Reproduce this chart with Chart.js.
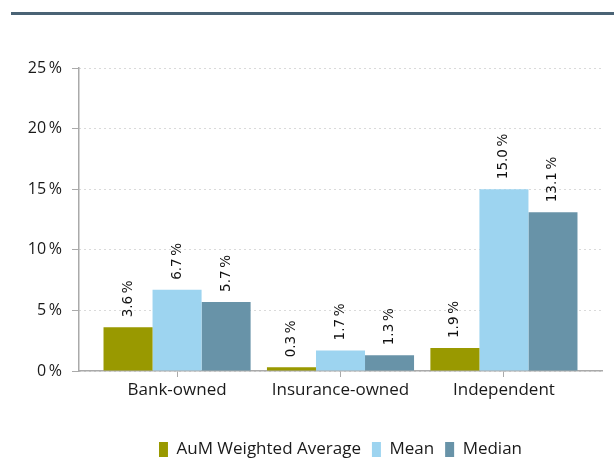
<!DOCTYPE html>
<html>
<head>
<meta charset="utf-8">
<script src="https://cdn.jsdelivr.net/npm/chart.js@4/dist/chart.umd.min.js"></script>
<style>
  html, body { margin: 0; padding: 0; background: #fff; }
  #wrap { width: 614px; height: 459px; position: relative; }
</style>
</head>
<body>
<div id="wrap"><canvas id="fundsChart"></canvas></div>
<script>
// categories and series (percent)
const categories = ['Bank-owned', 'Insurance-owned', 'Independent'];
const aumWeighted = [3.6, 0.3, 1.9];
const meanValues = [6.7, 1.7, 15.0];
const medianValues = [5.7, 1.3, 13.1];
const yTickValues = [0, 5, 10, 15, 20, 25];

const fontMain = '"Open Sans", "Noto Sans", sans-serif';
const pct = v => v + '\u2009%';

// bars sit on a linear x axis so the plot can run a bit past the outer groups
const toPoints = arr => arr.map((v, i) => ({ x: i, y: v }));

// thick rule across the top
const topRule = {
  id: 'topRule',
  beforeDraw(chart) {
    const ctx = chart.ctx;
    ctx.save();
    ctx.fillStyle = '#4a6375';
    ctx.fillRect(11, 12, chart.width - 11, 3);
    ctx.restore();
  }
};

// rotated value labels above every bar
const valueLabels = {
  id: 'valueLabels',
  afterDatasetsDraw(chart) {
    const ctx = chart.ctx;
    ctx.save();
    ctx.font = '13.5px "DejaVu Sans", sans-serif';
    ctx.fillStyle = '#111';
    ctx.textAlign = 'left';
    ctx.textBaseline = 'middle';
    chart.data.datasets.forEach((ds, di) => {
      const meta = chart.getDatasetMeta(di);
      meta.data.forEach((bar, i) => {
        const v = ds.data[i].y;
        ctx.save();
        ctx.translate(bar.x, bar.y - 10);
        ctx.rotate(-Math.PI / 2);
        ctx.fillText(v.toFixed(1) + '\u2009%', 0, 0);
        ctx.restore();
      });
    });
    ctx.restore();
  }
};

const ctx = document.getElementById('fundsChart').getContext('2d');
const fundsChart = new Chart(ctx, {
  type: 'bar',
  data: {
    datasets: [
      { label: 'AuM Weighted Average', data: toPoints(aumWeighted), backgroundColor: '#999900' },
      { label: 'Mean', data: toPoints(meanValues), backgroundColor: '#9dd4f0' },
      { label: 'Median', data: toPoints(medianValues), backgroundColor: '#6893a8' }
    ]
  },
  options: {
    responsive: true,
    maintainAspectRatio: false,
    animation: false,
    layout: { padding: { top: 68, right: 12, bottom: -9, left: 0 } },
    datasets: { bar: { categoryPercentage: 0.9, barPercentage: 1.0 } },
    scales: {
      x: {
        type: 'linear',
        min: -0.6,
        max: 2.6,
        offset: false,
        grid: { offset: false, drawOnChartArea: false, drawTicks: true, tickLength: 6, tickColor: '#aaa' },
        border: { color: '#aaa', width: 1.5 },
        ticks: {
          stepSize: 1,
          includeBounds: false,
          autoSkip: false,
          maxRotation: 0,
          padding: 3,
          color: '#1a1a1a',
          font: { family: fontMain, size: 17 },
          callback: v => categories[v] ?? ''
        },
        afterFit(scale) { scale.height = 59; }
      },
      y: {
        min: 0,
        max: 25,
        grid: { color: '#b5b5b5', lineWidth: 1, tickLength: 7, tickColor: '#aaa', tickBorderDash: [] },
        border: { color: '#aaa', width: 1.5, dash: [1, 4] },
        afterBuildTicks(scale) { scale.ticks = yTickValues.map(v => ({ value: v })); },
        ticks: {
          padding: 10,
          color: '#1a1a1a',
          font: { family: fontMain, size: 16 },
          callback: v => pct(v)
        },
        afterFit(scale) { scale.width = 79; }
      }
    },
    plugins: {
      legend: {
        position: 'bottom',
        fullSize: false,
        labels: {
          boxWidth: 9,
          boxHeight: 15,
          padding: 11,
          color: '#1a1a1a',
          font: { family: fontMain, size: 17 }
        }
      },
      tooltip: { enabled: false }
    }
  },
  plugins: [topRule, valueLabels]
});
</script>
</body>
</html>
